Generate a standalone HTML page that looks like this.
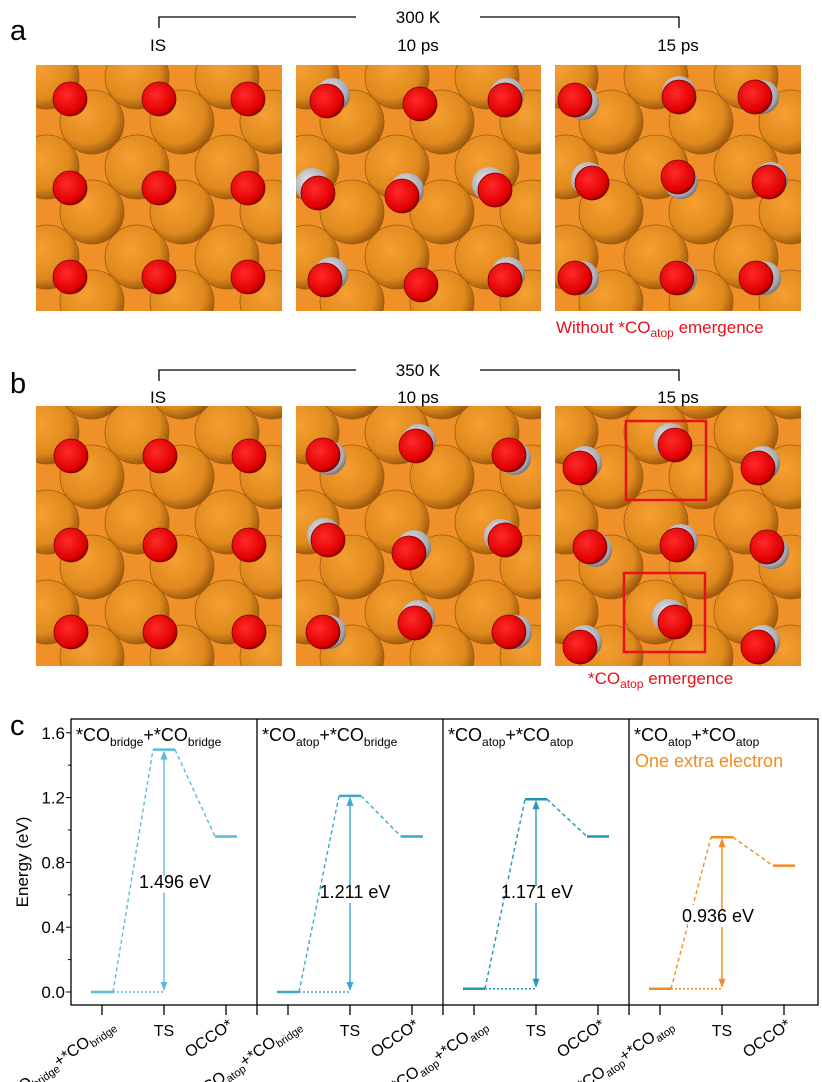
<!DOCTYPE html>
<html><head><meta charset="utf-8">
<style>
body{margin:0;background:#fff;width:822px;height:1082px;overflow:hidden;font-family:"Liberation Sans",sans-serif;}
svg{position:absolute;left:0;top:0}
</style></head>
<body>
<svg id="fig" width="822" height="1082" viewBox="0 0 822 1082">
<defs>
<radialGradient id="cu" cx="0.4" cy="0.38" r="0.65"><stop offset="0" stop-color="#f6a033"/><stop offset="0.7" stop-color="#e08a1e"/><stop offset="1" stop-color="#9a560c"/></radialGradient>
<radialGradient id="ox" cx="0.4" cy="0.38" r="0.65"><stop offset="0" stop-color="#ff2a2a"/><stop offset="0.8" stop-color="#e00000"/><stop offset="1" stop-color="#8a0000"/></radialGradient>
<radialGradient id="cc" cx="0.4" cy="0.38" r="0.65"><stop offset="0" stop-color="#e8e8ec"/><stop offset="0.8" stop-color="#a8a8b0"/><stop offset="1" stop-color="#707078"/></radialGradient>
</defs>
<g id="panels"></g>
<g font-size="17" fill="#000">
<text x="10" y="40" font-size="29">a</text>
<text x="10" y="393" font-size="29">b</text>
<text x="10" y="735" font-size="29">c</text>
<g stroke="#000" stroke-width="1.3" fill="none"><path d="M159,28V17H356M480,17H679V28"/></g>
<text x="418" y="23" text-anchor="middle">300 K</text>
<text x="158" y="51" text-anchor="middle">IS</text>
<text x="418" y="51" text-anchor="middle">10 ps</text>
<text x="678" y="51" text-anchor="middle">15 ps</text>
<g stroke="#000" stroke-width="1.3" fill="none"><path d="M159,381V370H356M480,370H679V381"/></g>
<text x="418" y="376" text-anchor="middle">350 K</text>
<text x="158" y="403" text-anchor="middle">IS</text>
<text x="418" y="403" text-anchor="middle">10 ps</text>
<text x="678" y="403" text-anchor="middle">15 ps</text>
<text x="556" y="333" fill="#e8101a">Without  *CO<tspan font-size="12" dy="4">atop</tspan><tspan dy="-4"> emergence</tspan></text>
<text x="588" y="684" fill="#e8101a">*CO<tspan font-size="12" dy="4">atop</tspan><tspan dy="-4"> emergence</tspan></text>
</g>
<rect x="626" y="421" width="80" height="79" fill="none" stroke="#e8101a" stroke-width="2.5"/>
<rect x="624" y="573" width="81" height="79" fill="none" stroke="#e8101a" stroke-width="2.5"/>
<g id="chart"></g>
</svg>
<script>
const NS="http://www.w3.org/2000/svg";
function mk(tag,attrs,parent){const e=document.createElementNS(NS,tag);for(const k in attrs)e.setAttribute(k,attrs[k]);parent.appendChild(e);return e;}
const panelsG=document.getElementById('panels');
const panelBoxes=[[36,65,246,246,0],[296,65,245,246,0],[555,65,246,246,0],[36,406,246,260,14],[296,406,245,260,14],[555,406,246,260,14]];
const panelNames=['a-is','a-10ps','a-15ps','b-is','b-10ps','b-15ps'];
const oxygen=[
[[70,99,0,0],[159,99,0,0],[248,99,0,0],[70,188,0,0],[159,188,0,0],[248,188,0,0],[70,277,0,0],[159,277,0,0],[248,277,0,0]],
[[327,101,6,-6],[420,104,0,0],[505,100,2,-5],[318,193,-6,-8],[402,196,5,-6],[495,190,-6,-6],[325,280,6,-6],[421,285,0,0],[505,280,3,-6]],
[[575,100,7,3],[679,97,0,-4],[755,97,7,0],[592,183,-4,-4],[678,177,3,5],[769,182,2,-3],[575,278,7,0],[677,278,3,0],[756,278,8,0]],
[[71,456,0,0],[160,456,0,0],[249,456,0,0],[71,545,0,0],[160,545,0,0],[249,545,0,0],[71,632,0,0],[160,632,0,0],[249,632,0,0]],
[[323,455,6,3],[416,446,3,-5],[509,455,5,3],[328,540,-4,-5],[409,553,5,-6],[505,540,-4,-4],[323,632,6,0],[415,623,3,-6],[509,632,6,0]],
[[580,468,5,-5],[675,445,-5,-5],[758,468,5,-5],[590,547,5,3],[677,545,4,-4],[767,547,5,5],[580,647,5,-5],[675,622,-6,-6],[758,647,5,-5]]
];
panelBoxes.forEach((b,p)=>{
  const [x0,y0,w,h,dy]=b;
  const g=mk('g',{},panelsG);
  
  
  const cid='clip'+p;
  const cp=mk('clipPath',{id:cid},g);mk('rect',{x:x0,y:y0,width:w,height:h},cp);
  const inner=mk('g',{'clip-path':'url(#'+cid+')'},g);
  mk('rect',{x:x0,y:y0,width:w,height:h,fill:'#f09028'},inner);
  for(let j=-1;j<4;j++)for(let i=-1;i<4;i++){
    mk('circle',{cx:x0+11+90*i,cy:y0+12+dy+90*j,r:32,fill:'url(#cu)',stroke:'#a05a10','stroke-width':0.8},inner);
  }
  for(let j=-1;j<4;j++)for(let i=-1;i<4;i++){
    mk('circle',{cx:x0+56+90*i,cy:y0+57+dy+90*j,r:32,fill:'url(#cu)',stroke:'#a05a10','stroke-width':0.8},inner);
  }
  oxygen[p].forEach(o=>{
    if(o[2]||o[3]){const c=mk('circle',{cx:o[0]+o[2],cy:o[1]+o[3],r:17,fill:'url(#cc)'},inner);
      }
    const a=mk('circle',{cx:o[0],cy:o[1],r:17,fill:'url(#ox)',stroke:'#7a0000','stroke-width':0.8},inner);
    
  });
});
</script>
<script>
const energyIS=[0,0,0.02,0.02];
const energyTS=[1.496,1.211,1.19,0.955];
const energyFS=[0.96,0.96,0.96,0.78];
const barrierLabels=['1.496 eV','1.211 eV','1.171 eV','0.936 eV'];
const yTicks=[0,0.4,0.8,1.2,1.6];
const seriesColors=['#5bbcd6','#3aa9cc','#2196b8','#f28c1e'];
const chart=document.getElementById('chart');
const L=71,R=818,T=719,B=1005,pw=186;
const y=v=>992-v*162;
const tx=(p,k)=>L+31+pw*p+62*k;
const labelDx=[11,5,1,-4],labelDy=[17,4,4,9];
const frame=mk('rect',{x:L,y:T,width:R-L,height:B-T,fill:'none',stroke:'#000','stroke-width':1.3},chart);

for(let p=1;p<4;p++){const d=mk('line',{x1:L+pw*p,x2:L+pw*p,y1:T,y2:B+10,stroke:'#000','stroke-width':1.3},chart);
 }
yTicks.forEach(v=>{
  mk('line',{x1:L-5,x2:L,y1:y(v),y2:y(v),stroke:'#000'},chart);
  const t=mk('text',{x:L-6,y:y(v)+6,'text-anchor':'end','font-size':17},chart);t.textContent=v.toFixed(1);
  
});
for(let v=0.2;v<1.6;v+=0.4)mk('line',{x1:L-3,x2:L,y1:y(v),y2:y(v),stroke:'#000'},chart);
const yt=mk('text',{x:0,y:0,'font-size':17,transform:'translate(28,862) rotate(-90)','text-anchor':'middle'},chart);
yt.textContent='Energy (eV)';
const titles=[['bridge','bridge'],['atop','bridge'],['atop','atop'],['atop','atop']];
for(let p=0;p<4;p++){
  const c=seriesColors[p];
  const g=mk('g',{},chart);
  
  const lv=[energyIS[p],energyTS[p],energyFS[p]];
  lv.forEach((v,k)=>mk('line',{x1:tx(p,k)-11,x2:tx(p,k)+11,y1:y(v),y2:y(v),stroke:c,'stroke-width':2.5},g));
  mk('line',{x1:tx(p,0)+11,y1:y(lv[0]),x2:tx(p,1)-11,y2:y(lv[1]),stroke:c,'stroke-width':1.4,'stroke-dasharray':'4,3'},g);
  mk('line',{x1:tx(p,1)+11,y1:y(lv[1]),x2:tx(p,2)-11,y2:y(lv[2]),stroke:c,'stroke-width':1.4,'stroke-dasharray':'4,3'},g);
  mk('line',{x1:tx(p,0)+11,y1:y(lv[0]),x2:tx(p,1),y2:y(lv[0]),stroke:c,'stroke-width':1.4,'stroke-dasharray':'2,2'},g);
  const ax=tx(p,1);
  mk('line',{x1:ax,x2:ax,y1:y(lv[1])+2,y2:y(lv[0])-2,stroke:c,'stroke-width':1.4},g);
  mk('path',{d:`M${ax-3.5},${y(lv[1])+10}L${ax},${y(lv[1])+1}L${ax+3.5},${y(lv[1])+10}Z`,fill:c},g);
  mk('path',{d:`M${ax-3.5},${y(lv[0])-10}L${ax},${y(lv[0])-1}L${ax+3.5},${y(lv[0])-10}Z`,fill:c},g);
  const ly=y((lv[0]+lv[1])/2)+labelDy[p];
  const lx=ax+labelDx[p];
  mk('rect',{x:lx-30,y:ly-17,width:60,height:22,fill:'#fff'},g);
  mk('line',{x1:ax,x2:ax,y1:ly-17,y2:ly-12,stroke:c,'stroke-width':1.4},g);
  const lt=mk('text',{x:lx,y:ly,'font-size':18,'text-anchor':'middle'},g);
  lt.textContent=barrierLabels[p];
  const tt=mk('text',{x:L+pw*p+5,y:T+22,'font-size':18},chart);
  tt.innerHTML=`*CO<tspan font-size="12" dy="5">${titles[p][0]}</tspan><tspan dy="-5">+*CO</tspan><tspan font-size="12" dy="5">${titles[p][1]}</tspan>`;
  
  [0,1,2].forEach(k=>mk('line',{x1:tx(p,k),x2:tx(p,k),y1:B,y2:B+10,stroke:'#000','stroke-width':1.3},chart));
  const ts=mk('text',{x:tx(p,1),y:B+31,'font-size':16,'text-anchor':'middle'},chart);ts.textContent='TS';
  
  const oc=mk('text',{x:0,y:0,'font-size':16,'text-anchor':'end',transform:`translate(${tx(p,2)+8},${B+22}) rotate(-35)`},chart);oc.textContent='OCCO*';
  
  const is=mk('text',{x:0,y:0,'font-size':16,'text-anchor':'end',transform:`translate(${tx(p,0)+14},${B+22}) rotate(-35)`},chart);
  is.innerHTML=`*CO<tspan font-size="11" dy="4">${titles[p][0]}</tspan><tspan dy="-4">+*CO</tspan><tspan font-size="11" dy="4">${titles[p][1]}</tspan>`;
  
}
const ex=mk('text',{x:L+pw*3+6,y:T+48,'font-size':18,fill:'#f28c1e'},chart);
ex.textContent='One extra electron';
</script>
</body></html>
